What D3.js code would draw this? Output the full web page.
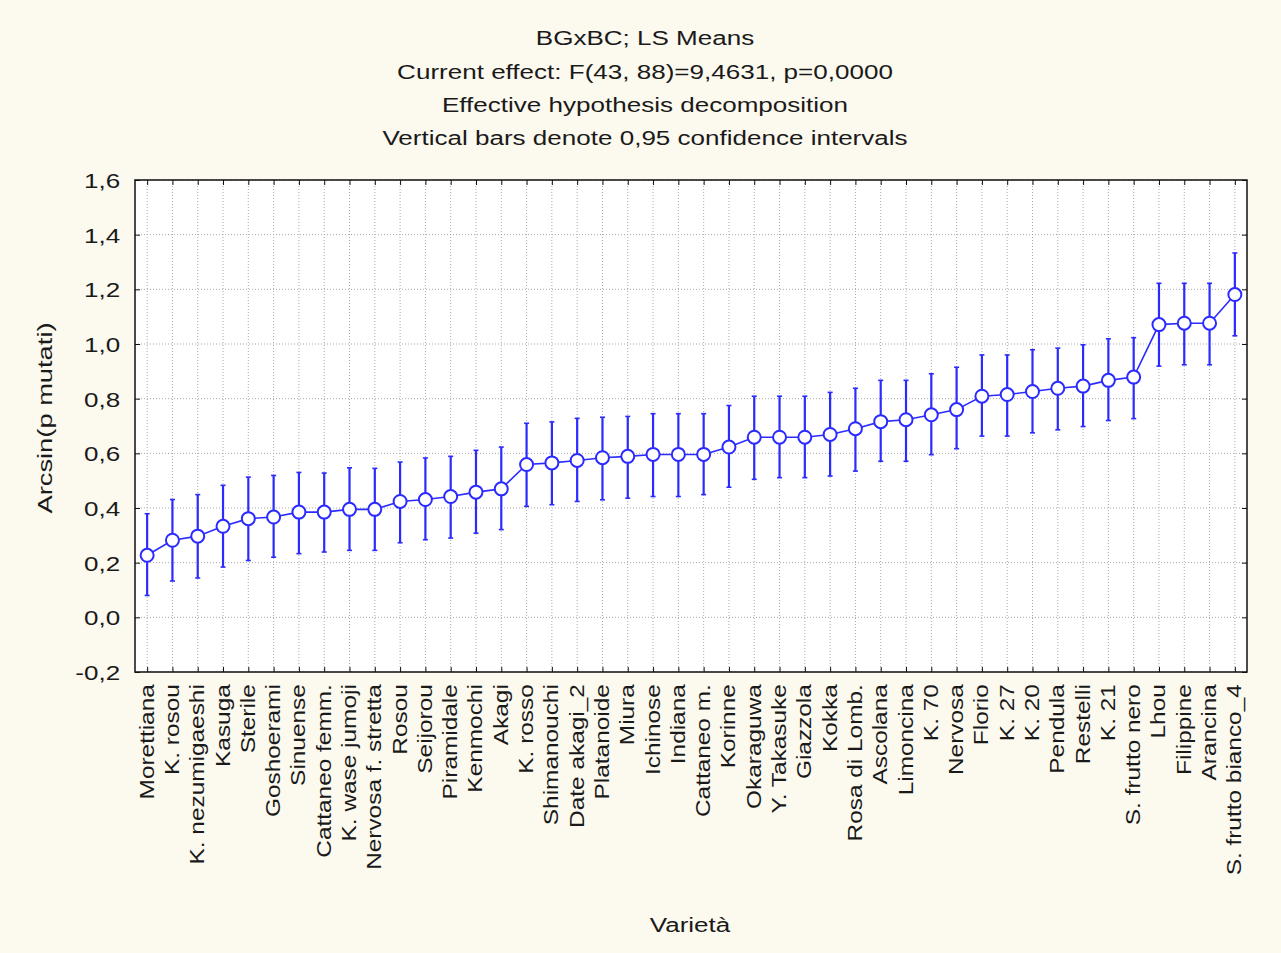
<!DOCTYPE html>
<html>
<head>
<meta charset="utf-8">
<script src="https://cdn.jsdelivr.net/npm/d3@7"></script>
<style>
  body { margin: 0; background: #fcf9ef; }
  text { font-family: "Liberation Sans", Arial, sans-serif; fill: #1a1a1a; }
</style>
</head>
<body>
<svg id="chart" width="1281" height="953"></svg>
<script>
var categories = ["Morettiana", "K. rosou", "K. nezumigaeshi", "Kasuga", "Sterile", "Goshoerami",
  "Sinuense", "Cattaneo femm.", "K. wase jumoji", "Nervosa f. stretta", "Rosou", "Seijorou",
  "Piramidale", "Kenmochi", "Akagi", "K. rosso", "Shimanouchi", "Date akagi_2", "Platanoide",
  "Miura", "Ichinose", "Indiana", "Cattaneo m.", "Korinne", "Okaraguwa", "Y. Takasuke",
  "Giazzola", "Kokka", "Rosa di Lomb.", "Ascolana", "Limoncina", "K. 70", "Nervosa", "Florio",
  "K. 27", "K. 20", "Pendula", "Restelli", "K. 21", "S. frutto nero", "Lhou", "Filippine",
  "Arancina", "S. frutto bianco_4"];

var means = [0.227, 0.282, 0.297, 0.333, 0.361, 0.367, 0.385, 0.385, 0.395, 0.395, 0.424, 0.431,
  0.442, 0.458, 0.470, 0.559, 0.565, 0.574, 0.584, 0.589, 0.596, 0.596, 0.596, 0.623, 0.659,
  0.659, 0.659, 0.669, 0.690, 0.716, 0.723, 0.741, 0.760, 0.809, 0.815, 0.826, 0.838, 0.846,
  0.867, 0.879, 1.071, 1.076, 1.076, 1.181];

var lower = [0.080, 0.133, 0.144, 0.184, 0.208, 0.220, 0.233, 0.239, 0.245, 0.245, 0.273, 0.284,
  0.290, 0.308, 0.321, 0.406, 0.412, 0.424, 0.430, 0.436, 0.442, 0.442, 0.449, 0.476, 0.505,
  0.511, 0.511, 0.517, 0.535, 0.571, 0.571, 0.595, 0.617, 0.663, 0.663, 0.675, 0.686, 0.698,
  0.720, 0.727, 0.919, 0.924, 0.924, 1.030];

var upper = [0.379, 0.431, 0.449, 0.483, 0.513, 0.519, 0.530, 0.528, 0.547, 0.545, 0.568, 0.583,
  0.589, 0.611, 0.623, 0.710, 0.715, 0.728, 0.732, 0.735, 0.745, 0.745, 0.745, 0.775, 0.809,
  0.809, 0.809, 0.823, 0.838, 0.867, 0.867, 0.891, 0.915, 0.960, 0.960, 0.979, 0.985, 0.997,
  1.019, 1.023, 1.222, 1.222, 1.222, 1.333];

var yTicks = [-0.2, 0.0, 0.2, 0.4, 0.6, 0.8, 1.0, 1.2, 1.4, 1.6];

var titleLines = ["BGxBC; LS Means",
  "Current effect: F(43, 88)=9,4631, p=0,0000",
  "Effective hypothesis decomposition",
  "Vertical bars denote 0,95 confidence intervals"];

var svg = d3.select("#chart"),
    margin = { top: 180, right: 34, bottom: 281, left: 135 },
    width = +svg.attr("width") - margin.left - margin.right,
    height = +svg.attr("height") - margin.top - margin.bottom;

var blue = "#2b2bff";
var fmt = d3.formatLocale({ decimal: ",", thousands: ".", grouping: [3], currency: ["", ""], minus: "-" }).format(".1f");

var xScale = d3.scalePoint().domain(categories).range([0, width]).padding(0.48),
    yScale = d3.scaleLinear().domain([-0.2, 1.6]).range([height, 0]);

// titoli
svg.selectAll(".title")
  .data(titleLines)
  .enter().append("text")
  .attr("class", "title")
  .attr("transform", (d, i) => "translate(645," + [45, 79, 112, 145][i] + ") scale(1.24,1)")
  .attr("text-anchor", "middle")
  .attr("font-size", "21px")
  .text(d => d);

var g = svg.append("g")
  .attr("transform", "translate(" + margin.left + "," + margin.top + ")");

g.append("rect")
  .attr("width", width).attr("height", height)
  .attr("fill", "#ffffff");

// griglia
g.selectAll(".vgrid")
  .data(categories)
  .enter().append("line")
  .attr("x1", d => xScale(d)).attr("x2", d => xScale(d))
  .attr("y1", 0).attr("y2", height)
  .attr("stroke", "#a9a9a9").attr("stroke-dasharray", "1,2");

g.selectAll(".hgrid")
  .data(yTicks)
  .enter().append("line")
  .attr("x1", 0).attr("x2", width)
  .attr("y1", d => yScale(d)).attr("y2", d => yScale(d))
  .attr("stroke", "#a9a9a9").attr("stroke-dasharray", "1,2");

// assi
var yAxis = g.append("g")
  .call(d3.axisLeft(yScale).tickValues(yTicks).tickFormat(fmt).tickSizeInner(-5).tickSizeOuter(0).tickPadding(12));
yAxis.select(".domain").remove();
yAxis.selectAll("line").attr("stroke", "#111");
yAxis.selectAll("text")
  .attr("font-size", "21px")
  .attr("transform", "scale(1.24,1)")
  .attr("dy", "0.36em");

var yAxisR = g.append("g")
  .attr("transform", "translate(" + width + ",0)")
  .call(d3.axisRight(yScale).tickValues(yTicks).tickFormat("").tickSizeInner(-5).tickSizeOuter(0));
yAxisR.select(".domain").remove();
yAxisR.selectAll("line").attr("stroke", "#111");

var xAxisT = g.append("g")
  .call(d3.axisTop(xScale).tickFormat("").tickSizeInner(-5).tickSizeOuter(0));
xAxisT.select(".domain").remove();
xAxisT.selectAll("line").attr("stroke", "#111");

var xAxis = g.append("g")
  .attr("transform", "translate(0," + height + ")")
  .call(d3.axisBottom(xScale).tickSizeInner(-5).tickSizeOuter(0).tickPadding(10));
xAxis.select(".domain").remove();
xAxis.selectAll("line").attr("stroke", "#111");
xAxis.selectAll("text")
  .attr("font-size", "20px")
  .attr("text-anchor", "end")
  .attr("x", -10)
  .attr("y", 0)
  .attr("dy", "0.3em")
  .attr("transform", "rotate(-90) scale(1.22,1)");

g.append("rect")
  .attr("width", width).attr("height", height)
  .attr("fill", "none").attr("stroke", "#111").attr("stroke-width", 1.5);

// etichette assi
svg.append("text")
  .attr("transform", "translate(52,418) rotate(-90) scale(1.3,1)")
  .attr("text-anchor", "middle")
  .attr("font-size", "21px")
  .text("Arcsin(p mutati)");

svg.append("text")
  .attr("transform", "translate(690,932) scale(1.24,1)")
  .attr("text-anchor", "middle")
  .attr("font-size", "21px")
  .text("Varietà");

// serie
var pts = categories.map((c, i) => ({ cat: c, mean: means[i], lo: lower[i], hi: upper[i] }));

g.selectAll(".err")
  .data(pts)
  .enter().append("line")
  .attr("x1", d => xScale(d.cat)).attr("x2", d => xScale(d.cat))
  .attr("y1", d => yScale(d.lo)).attr("y2", d => yScale(d.hi))
  .attr("stroke", blue).attr("stroke-width", 2.2);

g.selectAll(".capHi")
  .data(pts)
  .enter().append("line")
  .attr("x1", d => xScale(d.cat) - 2.5).attr("x2", d => xScale(d.cat) + 2.5)
  .attr("y1", d => yScale(d.hi)).attr("y2", d => yScale(d.hi))
  .attr("stroke", blue).attr("stroke-width", 1.6);

g.selectAll(".capLo")
  .data(pts)
  .enter().append("line")
  .attr("x1", d => xScale(d.cat) - 2.5).attr("x2", d => xScale(d.cat) + 2.5)
  .attr("y1", d => yScale(d.lo)).attr("y2", d => yScale(d.lo))
  .attr("stroke", blue).attr("stroke-width", 1.6);

g.append("path")
  .datum(pts)
  .attr("fill", "none")
  .attr("stroke", blue)
  .attr("stroke-width", 1.6)
  .attr("d", d3.line().x(d => xScale(d.cat)).y(d => yScale(d.mean)));

g.selectAll(".dot")
  .data(pts)
  .enter().append("circle")
  .attr("cx", d => xScale(d.cat))
  .attr("cy", d => yScale(d.mean))
  .attr("r", 6.5)
  .attr("fill", "#ffffff")
  .attr("stroke", blue)
  .attr("stroke-width", 2);
</script>
</body>
</html>
